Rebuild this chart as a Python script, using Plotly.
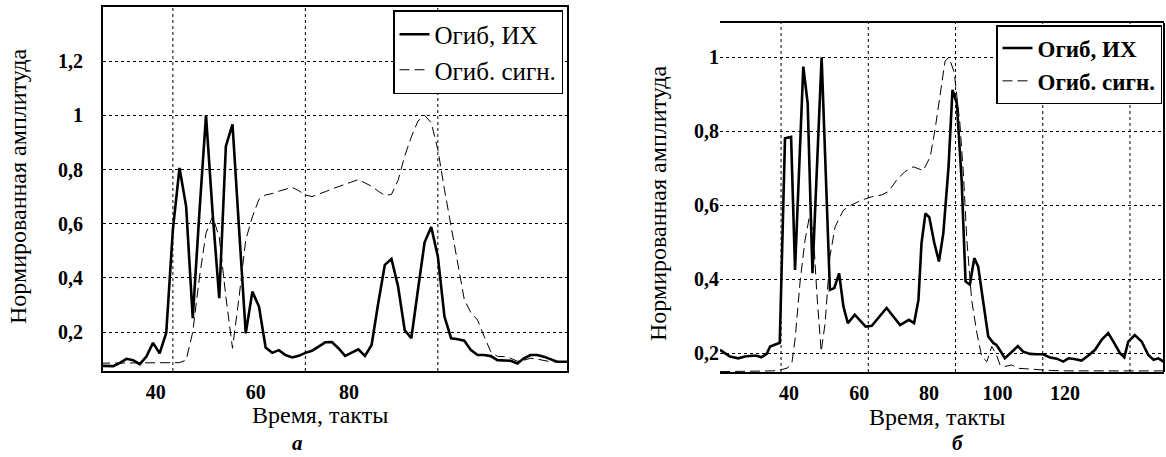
import plotly.graph_objects as go

# ---------------- Panel a ----------------
a_x = list(range(29, 101))
a_ih = [0.075, 0.074, 0.074, 0.086, 0.101, 0.096, 0.081, 0.109, 0.160, 0.121,
        0.197, 0.578, 0.806, 0.664, 0.251, 0.640, 1.000, 0.640, 0.325, 0.886,
        0.967, 0.578, 0.195, 0.349, 0.294, 0.143, 0.123, 0.133, 0.115, 0.106,
        0.112, 0.123, 0.131, 0.146, 0.162, 0.163, 0.140, 0.112, 0.125, 0.136,
        0.112, 0.152, 0.306, 0.448, 0.470, 0.368, 0.207, 0.177, 0.356, 0.531,
        0.588, 0.479, 0.257, 0.177, 0.173, 0.168, 0.133, 0.115, 0.115, 0.111,
        0.096, 0.096, 0.094, 0.084, 0.103, 0.115, 0.115, 0.109, 0.099, 0.090,
        0.090, 0.090]
a_sig = [0.085, 0.085, 0.085, 0.085, 0.085, 0.085, 0.086, 0.086, 0.086, 0.086,
         0.087, 0.087, 0.087, 0.096, 0.200, 0.400, 0.565, 0.627, 0.550, 0.330,
         0.140, 0.330, 0.540, 0.625, 0.690, 0.706, 0.711, 0.720, 0.728, 0.734,
         0.722, 0.706, 0.700, 0.708, 0.718, 0.728, 0.736, 0.744, 0.754, 0.763,
         0.750, 0.738, 0.720, 0.704, 0.708, 0.760, 0.850, 0.920, 0.979, 1.000,
         0.973, 0.874, 0.726, 0.590, 0.442, 0.319, 0.271, 0.244, 0.183, 0.127,
         0.110, 0.109, 0.103, 0.092, 0.096, 0.103, 0.100, 0.096, 0.090, 0.090,
         0.090, 0.090]
a_grid_x = [40, 60, 80]
a_tick_pos = [37.4, 52.5, 66.6]
a_tick_text = ["40", "60", "80"]
a_ytick_vals = [0.2, 0.4, 0.6, 0.8, 1.0, 1.2]
a_ytick_text = ["0,2", "0,4", "0,6", "0,8", "1", "1,2"]

# ---------------- Panel б ----------------
b_ih_x = [26.0, 28.3, 30.2, 31.7, 33.3, 34.4, 35.5, 36.7, 37.5, 39.0, 39.7,
          40.9, 42.3, 43.2, 45.1, 46.1, 47.2, 49.3, 51.2, 52.2, 53.3, 54.3,
          55.3, 56.9, 59.4, 60.8, 63.1, 64.2, 67.3, 69.3, 70.5, 71.5, 72.2,
          73.1, 74.0, 75.1, 76.2, 77.2, 78.4, 79.3, 80.3, 81.4, 82.3, 83.3,
          84.3, 85.2, 86.4, 87.5, 88.7, 89.4, 90.4, 91.3, 92.7, 94.3, 95.5,
          97.1, 98.6, 100.1, 101.7, 103.2, 104.7, 105.9, 107.2, 108.9, 110.4,
          112.0, 113.5, 115.0, 116.2, 117.7, 118.7, 119.6, 121.1, 122.7, 124.2,
          125.4, 126.5, 128.0]
b_ih = [0.209, 0.191, 0.186, 0.191, 0.193, 0.193, 0.189, 0.198, 0.218, 0.225, 0.228,
        0.781, 0.785, 0.425, 0.975, 0.876, 0.416, 1.000, 0.371, 0.376, 0.416, 0.326,
        0.281, 0.304, 0.272, 0.274, 0.308, 0.322, 0.276, 0.290, 0.281, 0.344, 0.497,
        0.578, 0.567, 0.500, 0.448, 0.524, 0.704, 0.912, 0.876, 0.668, 0.394, 0.385,
        0.457, 0.434, 0.335, 0.245, 0.227, 0.222, 0.204, 0.186, 0.201, 0.219, 0.204,
        0.198, 0.197, 0.197, 0.188, 0.185, 0.177, 0.186, 0.184, 0.180, 0.193,
        0.209, 0.236, 0.254, 0.231, 0.200, 0.189, 0.231, 0.249, 0.231, 0.195,
        0.182, 0.186, 0.175]
b_sig_x = [26.0, 30.0, 34.0, 38.0, 40.0, 41.5, 42.5, 43.2, 44.4, 45.5, 46.5,
           47.4, 48.2, 49.2, 50.1, 51.2, 52.4, 54.3, 56.2, 58.5, 60.8, 63.1,
           64.6, 66.5, 68.4, 70.3, 72.6, 74.2, 75.3, 76.4, 77.6, 78.5, 79.7,
           81.0, 81.8, 82.6, 83.7, 84.9, 86.0, 87.2, 88.3, 89.4, 90.2, 91.3,
           92.9, 94.4, 98.2, 102.0, 106.0, 110.0, 114.0, 118.0, 122.0, 126.0, 128.0]
b_sig = [0.150, 0.150, 0.150, 0.152, 0.155, 0.160, 0.175, 0.236, 0.398, 0.506, 0.569,
         0.524, 0.362, 0.204, 0.281, 0.461, 0.542, 0.587, 0.601, 0.614, 0.623, 0.628,
         0.637, 0.668, 0.691, 0.704, 0.694, 0.731, 0.804, 0.900, 0.990, 1.000, 0.960,
         0.822, 0.686, 0.506, 0.344, 0.254, 0.191, 0.177, 0.218, 0.195, 0.168, 0.164,
         0.168, 0.159, 0.155, 0.153, 0.152, 0.152, 0.153, 0.152, 0.154, 0.153, 0.152]
b_grid_x = [40, 60, 80, 100, 120]
b_tick_pos = [41.8, 57.9, 73.9, 89.6, 105.1]
b_tick_text = ["40", "60", "80", "100", "120"]
b_ytick_vals = [0.2, 0.4, 0.6, 0.8, 1.0]
b_ytick_text = ["0,2", "0,4", "0,6", "0,8", "1"]

series_names = ["Огиб, ИХ", "Огиб. сигн."]
x_title = "Время, такты"
y_title = "Нормированная амплитуда"
panel_labels = ["а", "б"]

W, H = 1166, 457
FONT = "'Liberation Serif', 'Times New Roman', Times, 'DejaVu Serif', serif"

fig = go.Figure()

solid = dict(color="black", width=2.6)
dashed = dict(color="black", width=1, dash="10px,5px")

fig.add_trace(go.Scatter(x=a_x, y=a_ih, mode="lines", line=solid, name=series_names[0],
                         xaxis="x", yaxis="y", legend="legend"))
fig.add_trace(go.Scatter(x=a_x, y=a_sig, mode="lines", line=dashed, name=series_names[1],
                         xaxis="x", yaxis="y", legend="legend"))
fig.add_trace(go.Scatter(x=b_ih_x, y=b_ih, mode="lines", line=solid, name=series_names[0],
                         xaxis="x2", yaxis="y2", legend="legend2"))
fig.add_trace(go.Scatter(x=b_sig_x, y=b_sig, mode="lines", line=dashed, name=series_names[1],
                         xaxis="x2", yaxis="y2", legend="legend2"))

tickfont = dict(family=FONT, size=20, color="black", weight="bold")
grid = dict(showgrid=True, gridcolor="black", griddash="dot", gridwidth=1)

fig.update_layout(
    width=W, height=H,
    margin=dict(l=0, r=0, t=0, b=0),
    paper_bgcolor="white", plot_bgcolor="white",
    font=dict(family=FONT, color="black"),
    xaxis=dict(domain=[103 / W, 567 / W], range=[29.45, 99.5], anchor="y",
               tickmode="array", tickvals=a_tick_pos, ticktext=a_tick_text,
               showgrid=False, zeroline=False, showline=True, linecolor="black",
               linewidth=2, mirror=True, ticks="", tickfont=tickfont,
               ticklabelstandoff=2),
    yaxis=dict(domain=[1 - 371 / H, 1 - 7 / H], range=[0.056, 1.4], anchor="x",
               tickmode="array", tickvals=a_ytick_vals, ticktext=a_ytick_text,
               zeroline=False, showline=True, linecolor="black", linewidth=2,
               mirror=True, ticks="", tickfont=tickfont, ticklabelstandoff=14, **grid),
    xaxis2=dict(domain=[720 / W, 1164 / W], range=[26.0, 127.8], anchor="y2",
                tickmode="array", tickvals=b_tick_pos, ticktext=b_tick_text,
                showgrid=False, zeroline=False, showline=True, linecolor="black",
                linewidth=2, mirror=True, ticks="", tickfont=tickfont,
                ticklabelstandoff=2),
    yaxis2=dict(domain=[1 - 372 / H, 1 - 23 / H], range=[0.149, 1.093], anchor="x2",
                tickmode="array", tickvals=b_ytick_vals, ticktext=b_ytick_text,
                zeroline=False, showline=False, ticks="", tickfont=tickfont,
                ticklabelstandoff=0, **grid),
    legend=dict(x=563 / W, y=1 - 10 / H, xanchor="right", yanchor="top",
                bgcolor="white", bordercolor="black", borderwidth=1.5,
                font=dict(family=FONT, size=25, color="black"),
                tracegroupgap=0, itemwidth=30),
    legend2=dict(x=1162 / W, y=1 - 25 / H, xanchor="right", yanchor="top",
                 bgcolor="white", bordercolor="black", borderwidth=1.5,
                 font=dict(family=FONT, size=23, color="black", weight="bold"),
                 tracegroupgap=0, itemwidth=30),
)

shapes = []
for gx in a_grid_x:
    shapes.append(dict(type="line", xref="x", yref="y domain", x0=gx, x1=gx, y0=0, y1=1,
                       line=dict(color="black", width=1, dash="dot"), layer="below"))
for gx in b_grid_x:
    shapes.append(dict(type="line", xref="x2", yref="y2 domain", x0=gx, x1=gx, y0=0, y1=1,
                       line=dict(color="black", width=1, dash="dot"), layer="below"))
# right spine of panel б
shapes.append(dict(type="line", xref="x2 domain", yref="y2 domain", x0=1, x1=1, y0=0, y1=1,
                   line=dict(color="black", width=2)))
fig.update_layout(shapes=shapes)

ann_font = dict(family=FONT, size=24, color="black")
annotations = [
    dict(text=x_title, x=320 / W, y=1 - 415 / H, xref="paper", yref="paper",
         xanchor="center", yanchor="middle", showarrow=False, font=ann_font),
    dict(text=x_title, x=937 / W, y=1 - 417 / H, xref="paper", yref="paper",
         xanchor="center", yanchor="middle", showarrow=False, font=ann_font),
    dict(text=y_title, x=18 / W, y=1 - 187 / H, xref="paper", yref="paper",
         xanchor="center", yanchor="middle", showarrow=False, textangle=-90, font=ann_font),
    dict(text=y_title, x=658 / W, y=1 - 204 / H, xref="paper", yref="paper",
         xanchor="center", yanchor="middle", showarrow=False, textangle=-90, font=ann_font),
    dict(text="<b><i>" + panel_labels[0] + "</i></b>", x=297 / W, y=1 - 443 / H,
         xref="paper", yref="paper", xanchor="center", yanchor="middle",
         showarrow=False, font=dict(family=FONT, size=21, color="black")),
    dict(text="<b><i>" + panel_labels[1] + "</i></b>", x=958 / W, y=1 - 443 / H,
         xref="paper", yref="paper", xanchor="center", yanchor="middle",
         showarrow=False, font=dict(family=FONT, size=21, color="black")),
]
fig.update_layout(annotations=annotations)

fig.write_html("out.html")
